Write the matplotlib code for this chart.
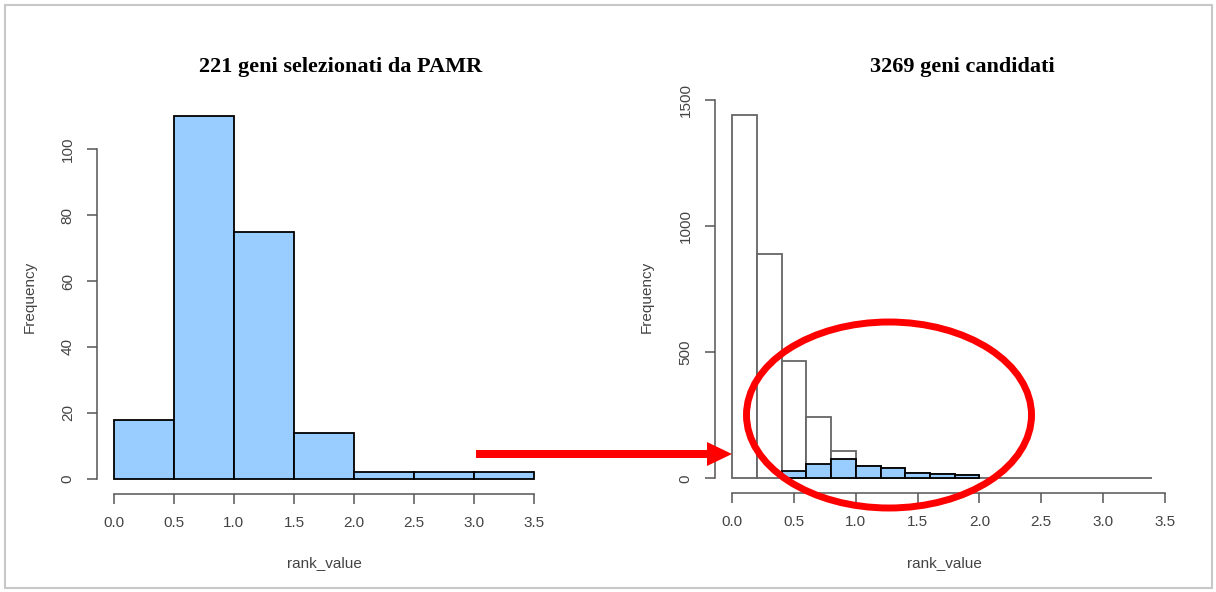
import numpy as np
import matplotlib
matplotlib.use("Agg")
import matplotlib.pyplot as plt
from matplotlib.patches import Ellipse, FancyArrow, Rectangle

# left histogram: 221 selected genes
left_breaks = [0.0, 0.5, 1.0, 1.5, 2.0, 2.5, 3.0, 3.5]
left_counts = [18, 110, 75, 14, 2, 2, 2]

# right histogram: all 3269 candidates + the selected ones on top
right_breaks = [0.0, 0.2, 0.4, 0.6, 0.8, 1.0, 1.2, 1.4, 1.6, 1.8, 2.0,
                2.2, 2.4, 2.6, 2.8, 3.0, 3.2, 3.4]
all_counts = [1444, 890, 465, 243, 107, 49, 41, 20, 18, 12, 0, 0, 0, 0, 0, 0, 0]
sel_breaks = [0.4, 0.6, 0.8, 1.0, 1.2, 1.4, 1.6, 1.8, 2.0]
sel_counts = [29, 56, 79, 49, 41, 20, 18, 12]

left_ticks_y = [0, 20, 40, 60, 80, 100]
right_ticks_y = [0, 500, 1000, 1500]
x_ticks = [0.0, 0.5, 1.0, 1.5, 2.0, 2.5, 3.0, 3.5]

BLUE = "#99CCFF"
AXC = "#555555"
W, H = 1216, 592

plt.rcParams["font.family"] = ["Liberation Sans", "DejaVu Sans"]
fig = plt.figure(figsize=(W / 100, H / 100), dpi=100)


def px_axes(x0, y0, x1, y1):
    # pixel box (top-left origin) -> figure axes
    return fig.add_axes([x0 / W, 1 - y1 / H, (x1 - x0) / W, (y1 - y0) / H])


def r_style(ax, ybounds, yticks):
    for s in ["top", "right"]:
        ax.spines[s].set_visible(False)
    for s in ["left", "bottom"]:
        ax.spines[s].set_color(AXC)
        ax.spines[s].set_linewidth(1.1)
    ax.spines["left"].set_bounds(*ybounds)
    ax.spines["bottom"].set_bounds(0, 3.5)
    ax.set_xticks(x_ticks)
    ax.set_xticklabels(["%.1f" % t for t in x_ticks])
    ax.set_yticks(yticks)
    ax.set_yticklabels([str(t) for t in yticks], rotation=90, va="center")
    ax.tick_params(direction="out", length=7, width=1.1, color=AXC,
                   labelcolor="#444444", labelsize=11, pad=9)


# left panel
ax1 = px_axes(97, 101.5, 551, 493.5)
ax1.bar(left_breaks[:-1], left_counts, width=np.diff(left_breaks), align="edge",
        color=BLUE, edgecolor="black", linewidth=1.3)
ax1.set_xlim(-0.14, 3.64)
ax1.set_ylim(-4.4, 114.4)
r_style(ax1, (0, 100), left_ticks_y)

# right panel
ax2 = px_axes(715, 100, 1182, 493)
ax2.bar(right_breaks[:-1], all_counts, width=np.diff(right_breaks), align="edge",
        color="white", edgecolor="#666666", linewidth=1.3)
ax2.bar(sel_breaks[:-1], sel_counts, width=np.diff(sel_breaks), align="edge",
        color=BLUE, edgecolor="black", linewidth=1.3)
ax2.set_xlim(-0.14, 3.64)
ax2.set_ylim(-57.8, 1501.8)
r_style(ax2, (0, 1500), right_ticks_y)

# titles and axis labels
tkw = dict(family=["Liberation Serif", "DejaVu Serif"], fontweight="bold",
           fontsize=16, ha="center", va="center")
fig.text(341 / W, 1 - 67 / H, "221 geni selezionati da PAMR", **tkw)
fig.text(962 / W, 1 - 67 / H, "3269 geni candidati", **tkw)
lkw = dict(fontsize=11, color="#444444", ha="center", va="center")
fig.text(324 / W, 1 - 563 / H, "rank_value", **lkw)
fig.text(944 / W, 1 - 563 / H, "rank_value", **lkw)
fig.text(30 / W, 1 - 297 / H, "Frequency", rotation=90, **lkw)
fig.text(647 / W, 1 - 297 / H, "Frequency", rotation=90, **lkw)

# overlay in pixel coordinates for the annotations and the frame
ov = fig.add_axes([0, 0, 1, 1], zorder=10)
ov.set_xlim(0, W)
ov.set_ylim(H, 0)
ov.axis("off")
ov.patch.set_alpha(0)
ov.add_patch(Rectangle((5, 5), 1207, 583, fill=False, edgecolor="#c8c8c8", linewidth=1.5))
ov.add_patch(FancyArrow(476, 454, 256, 0, width=8, head_width=24, head_length=25,
                        length_includes_head=True, color="#ff0000", linewidth=0))
ov.add_patch(Ellipse((889, 415), 285, 186, fill=False, edgecolor="#ff0000", linewidth=5))

fig.savefig("out.png", dpi=100, facecolor="white")
